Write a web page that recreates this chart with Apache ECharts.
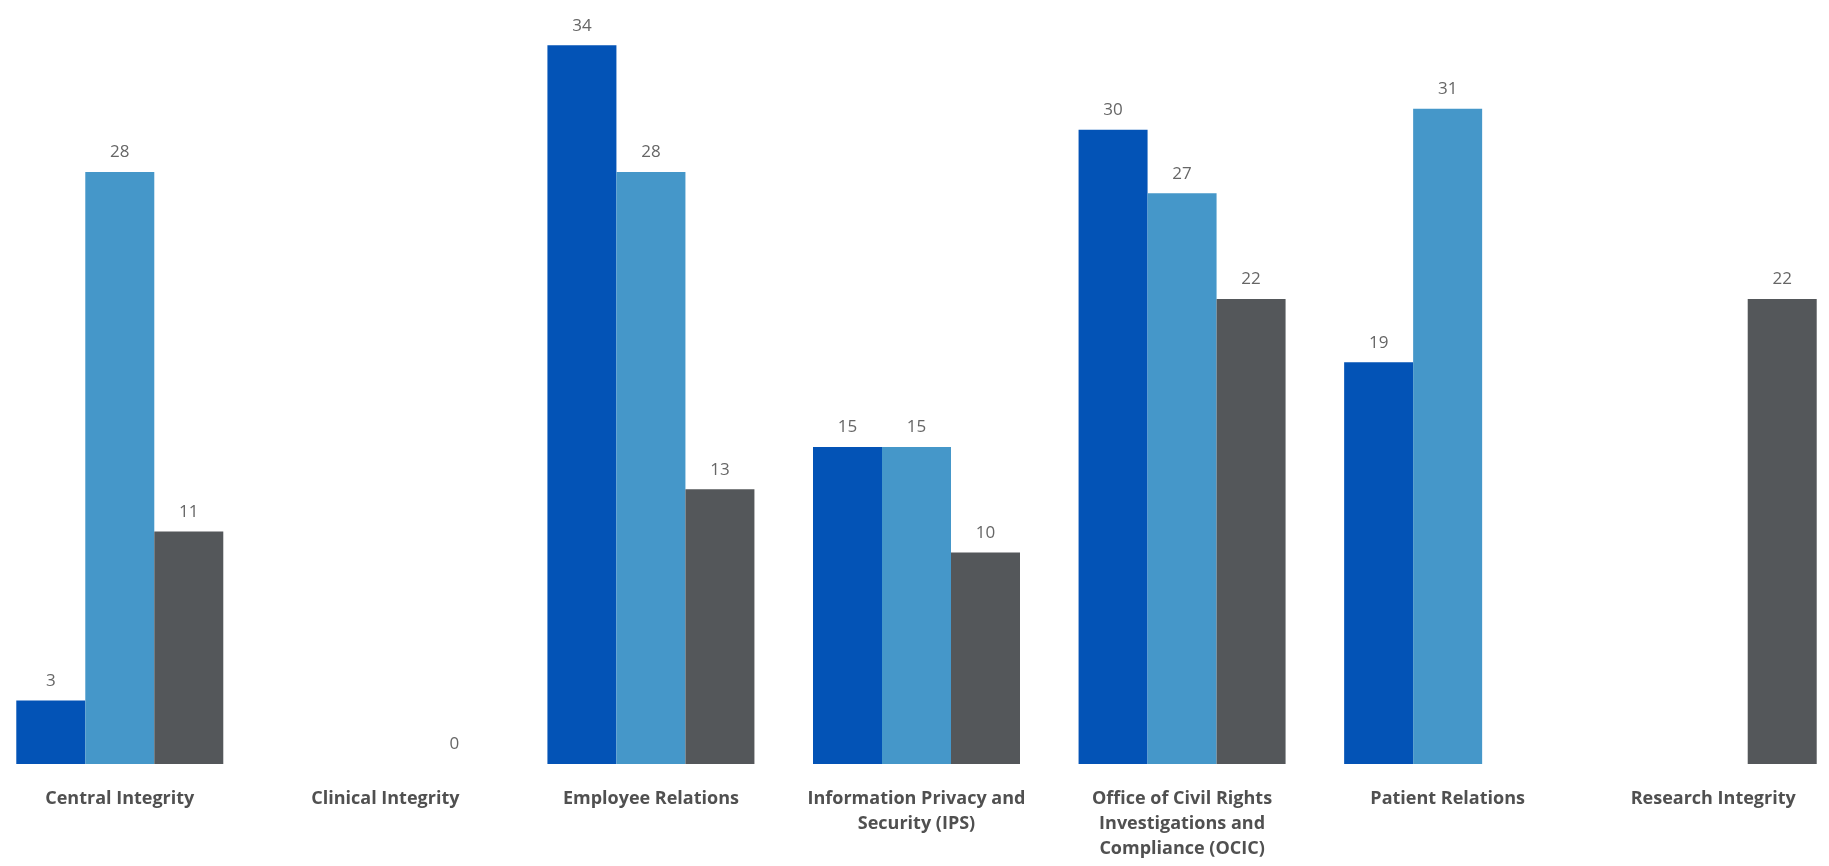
<!DOCTYPE html>
<html>
<head>
<meta charset="utf-8">
<style>
  html, body { margin: 0; padding: 0; background: #fff; }
  #chart { width: 1829px; height: 866px; }
</style>
<script src="https://cdn.jsdelivr.net/npm/echarts@6/dist/echarts.min.js"></script>
</head>
<body>
<div id="chart"></div>
<script>
  // categories (with the line breaks used on the axis)
  var categories = [
    'Central Integrity',
    'Clinical Integrity',
    'Employee Relations',
    'Information Privacy and\nSecurity (IPS)',
    'Office of Civil Rights\nInvestigations and\nCompliance (OCIC)',
    'Patient Relations',
    'Research Integrity'
  ];
  var seriesA = [3, null, 34, 15, 30, 19, null];
  var seriesB = [28, null, 28, 15, 27, 31, null];
  var seriesC = [11, 0, 13, 10, 22, null, 22];

  var valueLabel = {
    show: true,
    position: 'top',
    distance: 11,
    color: '#666',
    fontFamily: 'Open Sans',
    fontSize: 17
  };

  var myChart = echarts.init(document.getElementById('chart'));
  myChart.setOption({
    animation: false,
    grid: {
      left: -13,
      right: -17,
      top: 3,
      bottom: 102,
      containLabel: false,
      outerBoundsMode: 'none'
    },
    xAxis: {
      type: 'category',
      data: categories,
      axisLine: { show: false },
      axisTick: { show: false },
      axisLabel: {
        interval: 0,
        margin: 22,
        fontFamily: 'Open Sans',
        fontSize: 18,
        fontWeight: 'bold',
        color: '#505050',
        lineHeight: 25
      }
    },
    yAxis: {
      type: 'value',
      min: 0,
      max: 36,
      show: false,
      splitLine: { show: false }
    },
    series: [{
      name: 'Series 1',
      type: 'bar',
      barWidth: 69,
      barGap: 0,
      itemStyle: { color: '#0353b6' },
      label: valueLabel,
      data: seriesA
    }, {
      name: 'Series 2',
      type: 'bar',
      barWidth: 69,
      barGap: 0,
      itemStyle: { color: '#4597c9' },
      label: valueLabel,
      data: seriesB
    }, {
      name: 'Series 3',
      type: 'bar',
      barWidth: 69,
      barGap: 0,
      itemStyle: { color: '#54575a' },
      label: valueLabel,
      data: seriesC
    }]
  });
</script>
</body>
</html>
